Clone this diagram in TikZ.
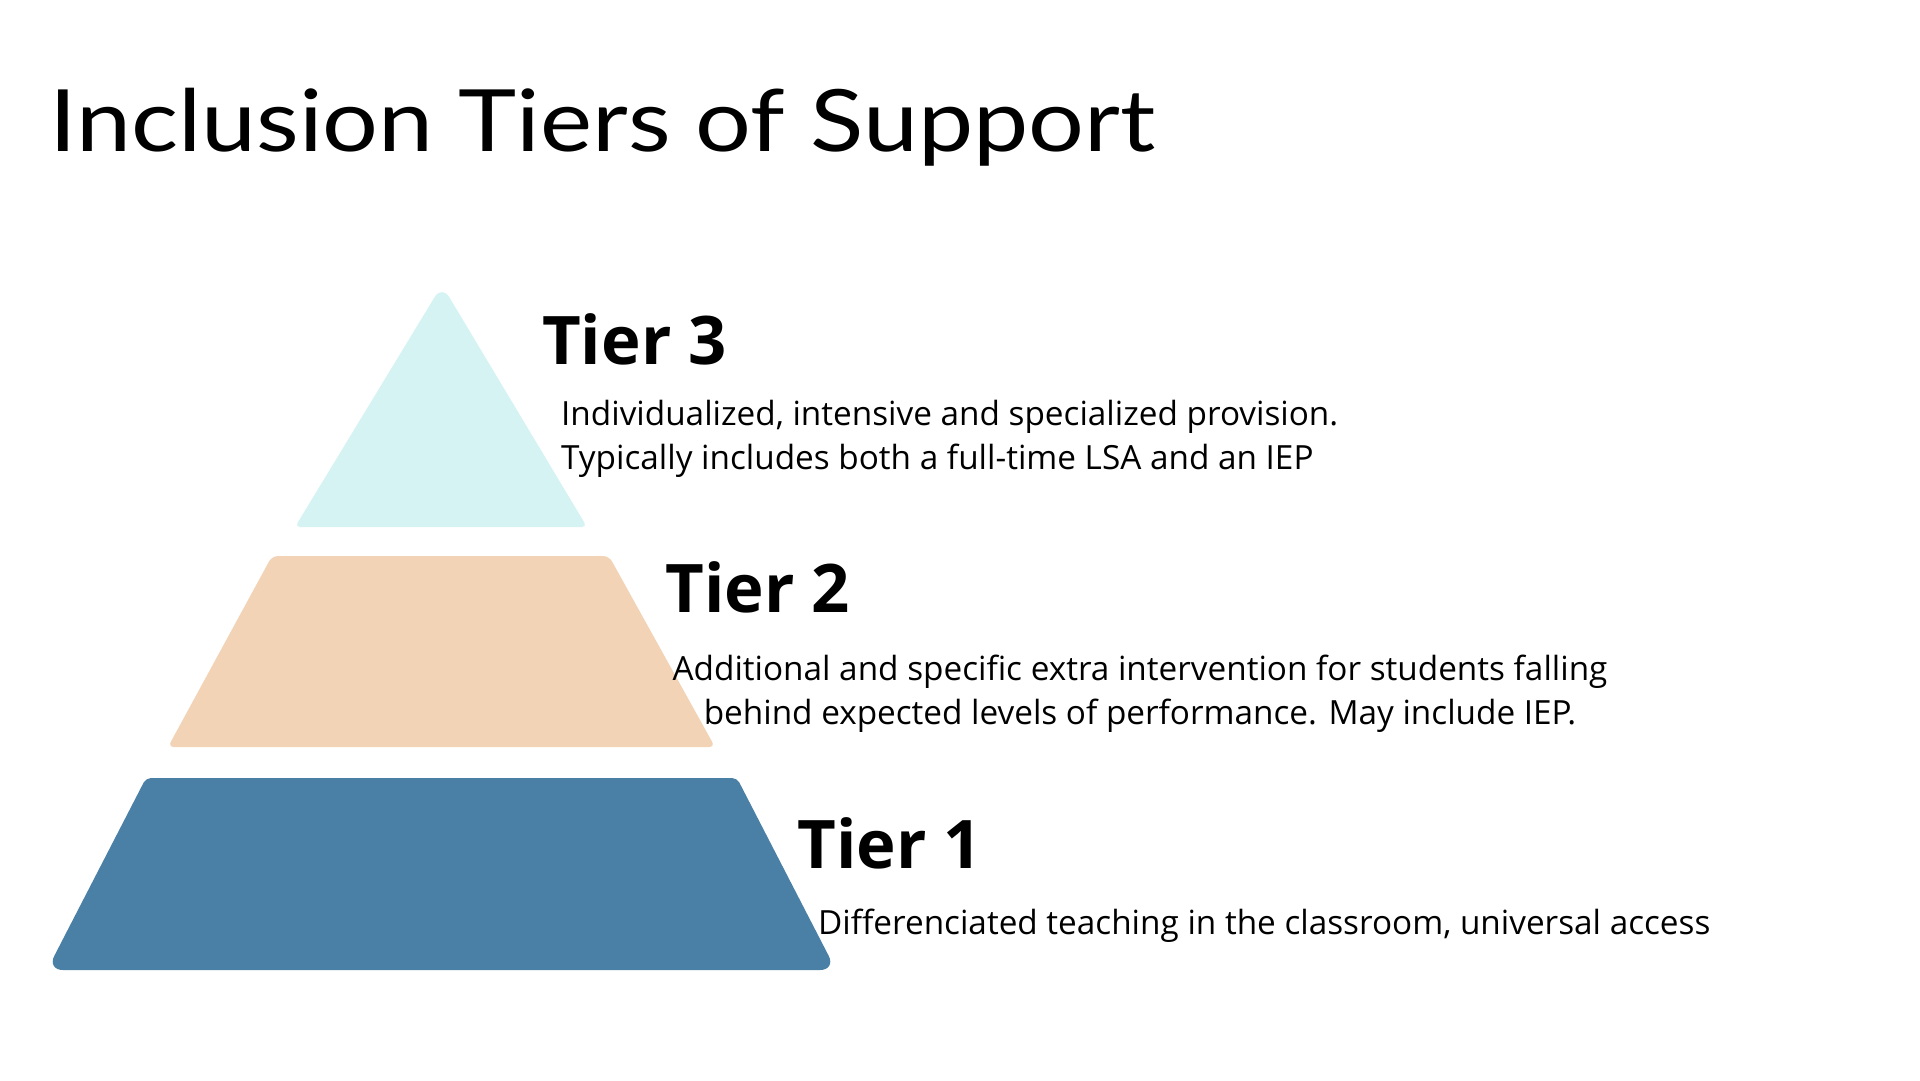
\documentclass[tikz,border=0pt]{standalone}
\usepackage{fontspec}
\setmainfont{Open Sans}
\newfontfamily\titlefont{Lato}
\usepackage{tikz}
\usetikzlibrary{positioning}
\definecolor{tierthree}{HTML}{D6F3F3}
\definecolor{tiertwo}{HTML}{F2D3B6}
\definecolor{tierone}{HTML}{4A80A6}
\tikzstyle{heading} = [anchor=base west, inner sep=0pt, font=\fontsize{67}{80}\selectfont\bfseries]
\tikzstyle{desc} = [inner sep=0pt, font=\fontsize{33.3}{44}\selectfont]
\tikzstyle{layer} = [rounded corners=6pt]

\begin{document}
\begin{tikzpicture}[x=1pt, y=-1pt]
    \useasboundingbox [fill=white] (0,0) rectangle (1920,1080);
    \node (title) [anchor=base west, inner sep=0pt, font=\fontsize{86}{96}\selectfont\titlefont] at (49,151) {\scalebox{1.146}[1]{Inclusion Tiers of Support}};
    % pyramid
    \fill [tierthree] (441,527) [rounded corners=5pt] -- (295,527) [rounded corners=14pt] -- (442,285) [rounded corners=5pt] -- (587,527) -- cycle;
    \fill [tiertwo, layer] (168,747) -- (272,556) -- (609,556) -- (715,747) -- cycle;
    \fill [tierone] (441,970) [rounded corners=16pt] -- (47,970) [rounded corners=5pt] -- (146,778) -- (737,778) [rounded corners=16pt] -- (836,970) -- cycle;
    % labels
    \node (t3) [heading] at (542,364) {Tier 3};
    \node (t3txt) [desc, anchor=base west, align=left] at (561,469) {Individualized, intensive and specialized provision.\\Typically includes both a full-time LSA and an IEP};
    \node (t2) [heading] at (665,612) {Tier 2};
    \node (t2txt) [desc, anchor=base, align=center] at (1140,724) {Additional and specific extra intervention for students falling\\behind expected levels of performance. May include IEP.};
    \node (t1) [heading] at (797,868) {Tier 1};
    \node (t1txt) [desc, anchor=base west] at (818,934) {Differenciated teaching in the classroom, universal access};
\end{tikzpicture}
\end{document}
